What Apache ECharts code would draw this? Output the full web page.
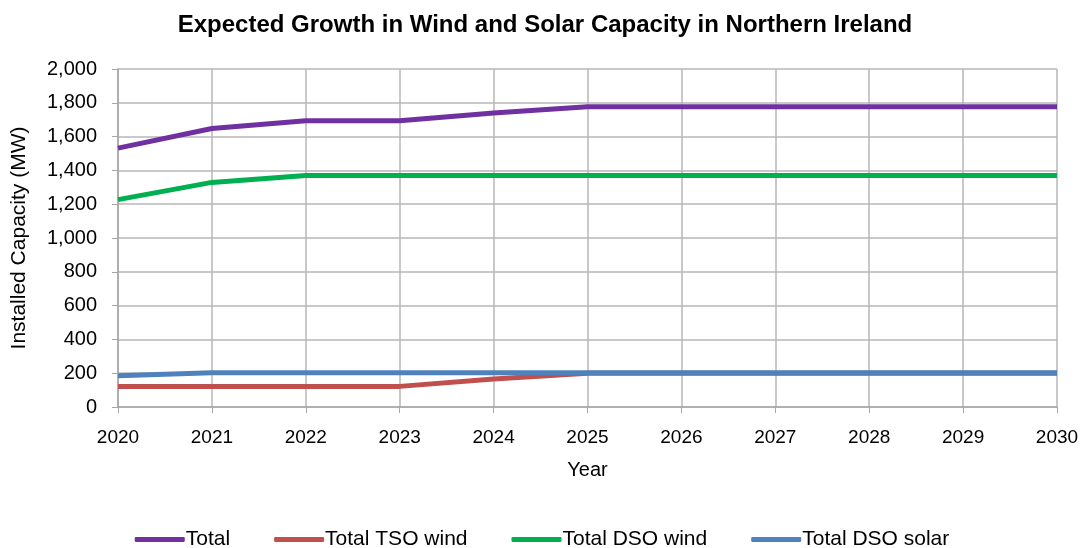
<!DOCTYPE html>
<html><head><meta charset="utf-8">
<script src="https://cdn.jsdelivr.net/npm/echarts@6/dist/echarts.min.js"></script>
<style>html,body{margin:0;padding:0;background:#fff}#c{width:1084px;height:548px}</style>
</head><body><div id="c"></div>
<script>
const years = ['2020','2021','2022','2023','2024','2025','2026','2027','2028','2029','2030'];
const total = [1532, 1648, 1694, 1694, 1740, 1777, 1777, 1777, 1777, 1777, 1777];
const tsoWind = [122, 122, 122, 122, 165, 200, 200, 200, 200, 200, 200];
const dsoWind = [1227, 1329, 1370, 1370, 1370, 1370, 1370, 1370, 1370, 1370, 1370];
const dsoSolar = [185, 202, 202, 202, 202, 202, 202, 202, 202, 202, 202];
const names = ['Total', 'Total TSO wind', 'Total DSO wind', 'Total DSO solar'];
const colors = ['#7030A0', '#C0504D', '#00B050', '#4F81BD'];
const font = 'Liberation Sans, Arial, sans-serif';
const chart = echarts.init(document.getElementById('c'));
const mk = (name, data, color) => ({
  name, type: 'line', data, showSymbol: false, symbol: 'none',
  lineStyle: { width: 5, color }, itemStyle: { color }, z: 3
});
chart.setOption({
  animation: false,
  title: { text: 'Expected Growth in Wind and Solar Capacity in Northern Ireland', left: 540, textAlign: 'center', top: 8,
    textStyle: { fontFamily: font, fontSize: 24, fontWeight: 'bold', color: '#000' } },
  grid: { left: 118, right: 27, top: 69, bottom: 141 },
  legend: { top: 524, left: 'center', itemWidth: 50, itemHeight: 5, itemGap: 44, icon: 'roundRect',
    textStyle: { fontFamily: font, fontSize: 21, color: '#000', padding: [0, 0, 0, -4] },
    data: names },
  xAxis: { type: 'category', data: years, boundaryGap: false,
    name: 'Year', nameLocation: 'middle', nameGap: 53, nameTextStyle: { fontFamily: font, fontSize: 20, color: '#000' },
    axisLine: { lineStyle: { color: '#a6a6a6', width: 1.5 } },
    axisTick: { show: true, length: 6, lineStyle: { color: '#a6a6a6' } },
    axisLabel: { fontFamily: font, fontSize: 19, color: '#000', margin: 21 },
    splitLine: { show: true, lineStyle: { color: '#b7b7b7', width: 1.5 } } },
  yAxis: { type: 'value', min: 0, max: 2000, interval: 200,
    name: 'Installed Capacity (MW)', nameLocation: 'middle', nameGap: 88, nameRotate: 90,
    nameTextStyle: { fontFamily: font, fontSize: 21, color: '#000' },
    axisLine: { show: true, lineStyle: { color: '#a6a6a6', width: 1.5 } },
    axisTick: { show: true, length: 6, lineStyle: { color: '#a6a6a6' } },
    axisLabel: { fontFamily: font, fontSize: 20, color: '#000', margin: 21,
      formatter: v => v.toLocaleString('en-US') },
    splitLine: { show: true, lineStyle: { color: '#b7b7b7', width: 1.5 } } },
  series: [
    mk(names[0], total, colors[0]),
    mk(names[1], tsoWind, colors[1]),
    mk(names[2], dsoWind, colors[2]),
    mk(names[3], dsoSolar, colors[3])
  ]
});
</script></body></html>
